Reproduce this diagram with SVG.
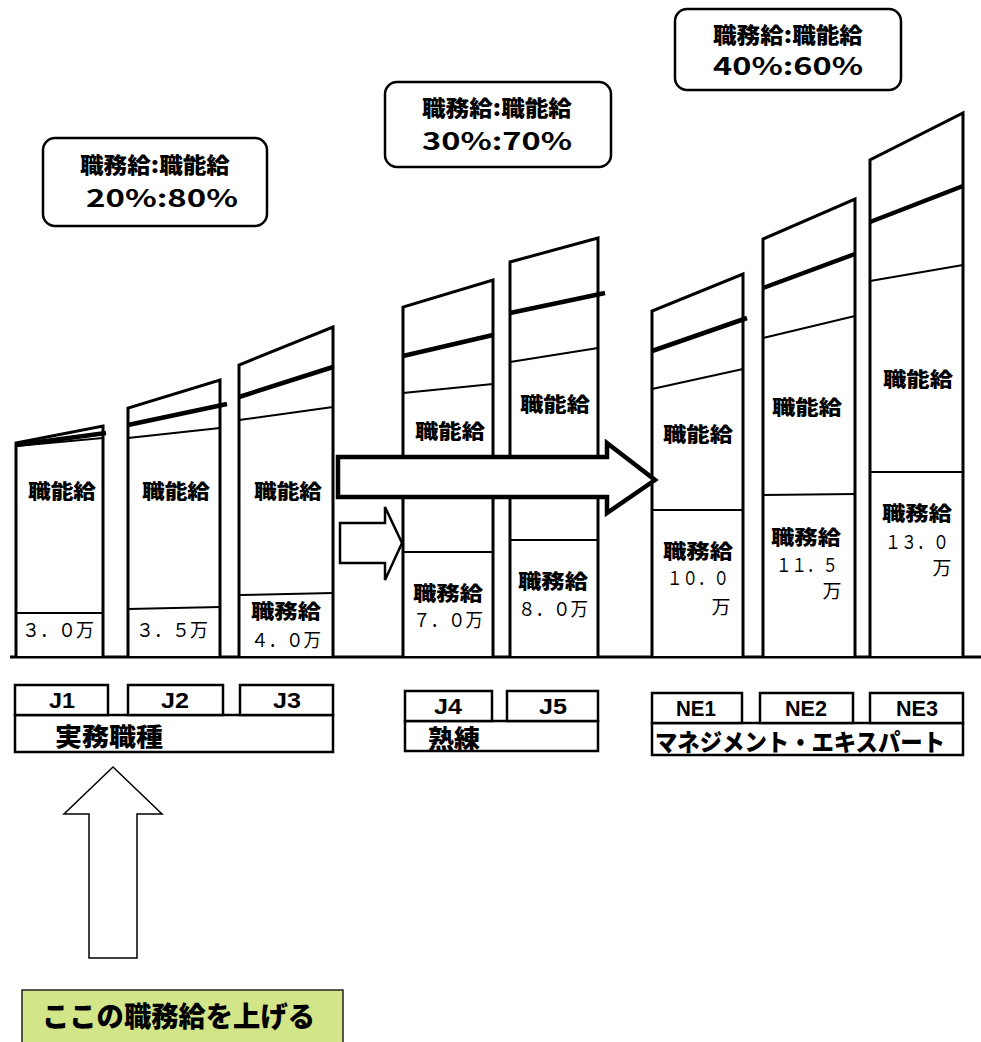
<svg xmlns="http://www.w3.org/2000/svg" width="981" height="1042" viewBox="0 0 981 1042">
<style>
.col{fill:#fff;stroke:#000;stroke-width:3;stroke-linejoin:miter}
.thk{stroke:#000;stroke-width:4.5;fill:none}
.thn{stroke:#000;stroke-width:2;fill:none}
.box{fill:#fff;stroke:#000;stroke-width:2.5}
.lb{fill:#fff;stroke:#000;stroke-width:2.5}
.t{font-family:"Noto Sans CJK JP",sans-serif;font-weight:900;fill:#000;text-anchor:middle;dominant-baseline:central}
.k{font-size:20px}
.n{font-size:19px;font-weight:normal}
.r1{font-size:22px}
.r2{font-size:24px;font-weight:bold}
.j{font-family:"Liberation Sans",sans-serif;font-size:22px;font-weight:bold}
.st{text-anchor:start}
.arr{fill:#fff;stroke:#000;stroke-linejoin:miter}
</style>
<rect width="981" height="1042" fill="#fff"/>

<g id="ratio1">
<rect class="box" x="43" y="138" width="224" height="88" rx="12"/>
<text class="t r1" x="155" y="163" textLength="150" lengthAdjust="spacingAndGlyphs">職務給:職能給</text>
<text class="t r2" x="162" y="196" textLength="152" lengthAdjust="spacingAndGlyphs">20%:80%</text>
</g>
<g id="ratio2">
<rect class="box" x="385" y="82" width="226" height="85" rx="12"/>
<text class="t r1" x="497" y="106" textLength="150" lengthAdjust="spacingAndGlyphs">職務給:職能給</text>
<text class="t r2" x="497" y="139" textLength="150" lengthAdjust="spacingAndGlyphs">30%:70%</text>
</g>
<g id="ratio3">
<rect class="box" x="675" y="9" width="226" height="81" rx="12"/>
<text class="t r1" x="788" y="33" textLength="150" lengthAdjust="spacingAndGlyphs">職務給:職能給</text>
<text class="t r2" x="788" y="64" textLength="150" lengthAdjust="spacingAndGlyphs">40%:60%</text>
</g>

<g id="baseline">
<line x1="10" y1="657" x2="981" y2="657" stroke="#000" stroke-width="3"/>
</g>

<g id="colJ1">
<path class="col" d="M16,656 V443 L103,426 V656"/>
<line class="thk" x1="16" y1="445" x2="106" y2="433"/>
<line class="thn" x1="16" y1="446" x2="103" y2="438"/>
<line class="thn" x1="16" y1="613" x2="103" y2="613"/>
<text class="t k" x="62" y="490" textLength="68" lengthAdjust="spacingAndGlyphs">職能給</text>
<text class="t n" x="58" y="628" textLength="72" lengthAdjust="spacingAndGlyphs">３．０万</text>
</g>
<g id="colJ2">
<path class="col" d="M128,656 V408 L220,380 V656"/>
<line class="thk" x1="128" y1="425" x2="227" y2="404"/>
<line class="thn" x1="128" y1="438" x2="220" y2="428"/>
<line class="thn" x1="128" y1="609" x2="220" y2="607"/>
<text class="t k" x="176" y="490" textLength="68" lengthAdjust="spacingAndGlyphs">職能給</text>
<text class="t n" x="172" y="628" textLength="72" lengthAdjust="spacingAndGlyphs">３．５万</text>
</g>
<g id="colJ3">
<path class="col" d="M239,656 V365 L333,327 V656"/>
<line class="thk" x1="239" y1="397" x2="333" y2="367"/>
<line class="thn" x1="239" y1="420" x2="333" y2="407"/>
<line class="thn" x1="239" y1="595" x2="333" y2="593"/>
<text class="t k" x="288" y="490" textLength="68" lengthAdjust="spacingAndGlyphs">職能給</text>
<text class="t k" x="286" y="610" textLength="70" lengthAdjust="spacingAndGlyphs">職務給</text>
<text class="t n" x="286" y="638" textLength="70" lengthAdjust="spacingAndGlyphs">４．０万</text>
</g>
<g id="colJ4">
<path class="col" d="M403,656 V307 L493,280 V656"/>
<line class="thk" x1="403" y1="356" x2="493" y2="335"/>
<line class="thn" x1="403" y1="393" x2="493" y2="384"/>
<line class="thn" x1="403" y1="552" x2="493" y2="552"/>
<text class="t k" x="450" y="430" textLength="70" lengthAdjust="spacingAndGlyphs">職能給</text>
<text class="t k" x="448" y="592" textLength="70" lengthAdjust="spacingAndGlyphs">職務給</text>
<text class="t n" x="448" y="618" textLength="70" lengthAdjust="spacingAndGlyphs">７．０万</text>
</g>
<g id="colJ5">
<path class="col" d="M510,656 V262 L598,238 V656"/>
<line class="thk" x1="510" y1="313" x2="605" y2="293"/>
<line class="thn" x1="510" y1="362" x2="598" y2="348"/>
<line class="thn" x1="510" y1="540" x2="598" y2="540"/>
<text class="t k" x="555" y="403" textLength="70" lengthAdjust="spacingAndGlyphs">職能給</text>
<text class="t k" x="553" y="580" textLength="70" lengthAdjust="spacingAndGlyphs">職務給</text>
<text class="t n" x="553" y="607" textLength="70" lengthAdjust="spacingAndGlyphs">８．０万</text>
</g>
<g id="colNE1">
<path class="col" d="M652,656 V311 L743,274 V656"/>
<line class="thk" x1="652" y1="351" x2="747" y2="318"/>
<line class="thn" x1="652" y1="389" x2="743" y2="369"/>
<line class="thn" x1="652" y1="510" x2="743" y2="510"/>
<text class="t k" x="698" y="433" textLength="70" lengthAdjust="spacingAndGlyphs">職能給</text>
<text class="t k" x="698" y="550" textLength="70" lengthAdjust="spacingAndGlyphs">職務給</text>
<text class="t n" x="698" y="576" textLength="62" lengthAdjust="spacingAndGlyphs">１０．０</text>
<text class="t n" x="721" y="605">万</text>
</g>
<g id="colNE2">
<path class="col" d="M763,656 V239 L855,199 V656"/>
<line class="thk" x1="763" y1="288" x2="855" y2="254"/>
<line class="thn" x1="763" y1="338" x2="855" y2="316"/>
<line class="thn" x1="763" y1="495" x2="855" y2="494"/>
<text class="t k" x="807" y="406" textLength="70" lengthAdjust="spacingAndGlyphs">職能給</text>
<text class="t k" x="806" y="536" textLength="70" lengthAdjust="spacingAndGlyphs">職務給</text>
<text class="t n" x="807" y="563" textLength="62" lengthAdjust="spacingAndGlyphs">１１．５</text>
<text class="t n" x="832" y="589">万</text>
</g>
<g id="colNE3">
<path class="col" d="M870,656 V160 L963,113 V656"/>
<line class="thk" x1="870" y1="222" x2="963" y2="186"/>
<line class="thn" x1="870" y1="281" x2="963" y2="265"/>
<line class="thn" x1="870" y1="472" x2="963" y2="472"/>
<text class="t k" x="918" y="378" textLength="70" lengthAdjust="spacingAndGlyphs">職能給</text>
<text class="t k" x="917" y="512" textLength="70" lengthAdjust="spacingAndGlyphs">職務給</text>
<text class="t n" x="917" y="540" textLength="64" lengthAdjust="spacingAndGlyphs">１３．０</text>
<text class="t n" x="942" y="566">万</text>
</g>

<g id="connectors">
<polygon class="arr" stroke-width="4.5" points="338,457 607,457 607,443 655,480 607,513 607,497 338,497"/>
<polygon class="arr" stroke-width="2.5" points="340,523 385,523 385,507 402,543 385,580 385,563 340,563"/>
<polygon class="arr" stroke-width="1.5" points="113,767 162,814 137,814 137,958 89,958 89,814 64,814"/>
</g>

<g id="labelsJ">
<rect class="lb" x="15" y="715" width="318" height="37"/>
<rect class="lb" x="15" y="685" width="93" height="30"/>
<rect class="lb" x="128" y="685" width="95" height="30"/>
<rect class="lb" x="240" y="685" width="93" height="30"/>
<text class="t j" x="62" y="700" textLength="26" lengthAdjust="spacingAndGlyphs">J1</text>
<text class="t j" x="175" y="700" textLength="28" lengthAdjust="spacingAndGlyphs">J2</text>
<text class="t j" x="287" y="700" textLength="28" lengthAdjust="spacingAndGlyphs">J3</text>
<text class="t st" x="55" y="735" font-size="25" textLength="108" lengthAdjust="spacingAndGlyphs">実務職種</text>
</g>
<g id="labelsJ45">
<rect class="lb" x="405" y="721" width="193" height="30"/>
<rect class="lb" x="405" y="691" width="87" height="30"/>
<rect class="lb" x="507" y="691" width="91" height="30"/>
<text class="t j" x="448" y="706" textLength="28" lengthAdjust="spacingAndGlyphs">J4</text>
<text class="t j" x="553" y="706" textLength="28" lengthAdjust="spacingAndGlyphs">J5</text>
<text class="t st" x="428" y="737" font-size="25" textLength="52" lengthAdjust="spacingAndGlyphs">熟練</text>
</g>
<g id="labelsNE">
<rect class="lb" x="652" y="723" width="311" height="32"/>
<rect class="lb" x="652" y="693" width="90" height="30"/>
<rect class="lb" x="760" y="693" width="93" height="30"/>
<rect class="lb" x="870" y="693" width="93" height="30"/>
<text class="t j" x="696" y="708" textLength="40" lengthAdjust="spacingAndGlyphs">NE1</text>
<text class="t j" x="806" y="708" textLength="42" lengthAdjust="spacingAndGlyphs">NE2</text>
<text class="t j" x="917" y="708" textLength="42" lengthAdjust="spacingAndGlyphs">NE3</text>
<text class="t st" x="655" y="740" font-size="24" textLength="290" lengthAdjust="spacingAndGlyphs">マネジメント・エキスパート</text>
</g>

<g id="note">
<rect x="22" y="990" width="321" height="60" fill="#d3e589" stroke="#222" stroke-width="1.5"/>
<text class="t st" x="42" y="1015" font-size="28" textLength="273" lengthAdjust="spacingAndGlyphs">ここの職務給を上げる</text>
</g>
</svg>
